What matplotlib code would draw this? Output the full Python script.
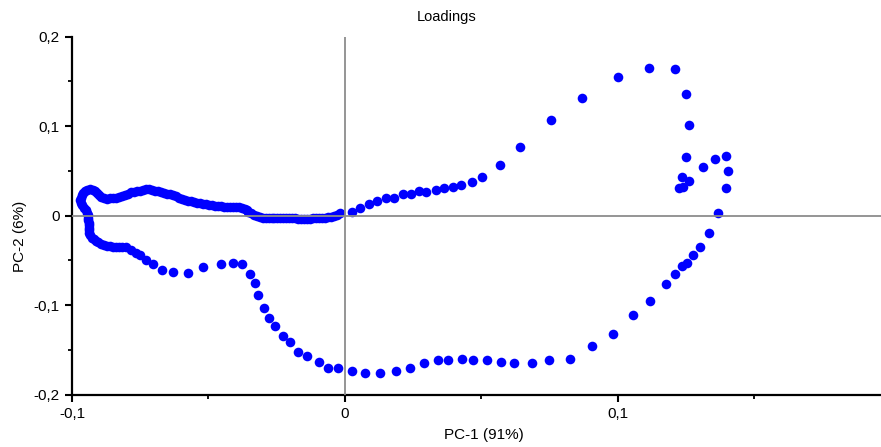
import matplotlib
matplotlib.use("Agg")
import matplotlib.pyplot as plt
from matplotlib.ticker import FixedLocator, FuncFormatter

plt.rcParams['font.family'] = ['Liberation Sans', 'DejaVu Sans']

# loadings PC-1 / PC-2, in path order
pc1 = [-0.0016, -0.0027, -0.0038, -0.0049, -0.0060, -0.0071, -0.0082, -0.0093, -0.0104, -0.0115,
       -0.0126, -0.0137, -0.0148, -0.0159, -0.0170, -0.0181, -0.0192, -0.0203, -0.0214, -0.0225,
       -0.0236, -0.0247, -0.0258, -0.0268, -0.0279, -0.0290, -0.0301, -0.0312, -0.0323, -0.0334,
       -0.0345, -0.0353, -0.0360, -0.0367, -0.0378, -0.0389, -0.0400, -0.0411, -0.0422, -0.0433,
       -0.0444, -0.0455, -0.0466, -0.0477, -0.0488, -0.0499, -0.0510, -0.0521, -0.0532, -0.0543,
       -0.0554, -0.0565, -0.0576, -0.0587, -0.0598, -0.0609, -0.0620, -0.0631, -0.0642, -0.0653,
       -0.0664, -0.0675, -0.0686, -0.0697, -0.0708, -0.0719, -0.0730, -0.0741, -0.0752, -0.0763,
       -0.0774, -0.0785, -0.0796, -0.0807, -0.0818, -0.0829, -0.0840, -0.0851, -0.0862, -0.0873,
       -0.0884, -0.0895, -0.0902, -0.0910, -0.0917, -0.0924, -0.0935, -0.0946, -0.0953, -0.0961,
       -0.0964, -0.0968, -0.0970, -0.0968, -0.0963, -0.0955, -0.0950, -0.0946, -0.0943, -0.0941,
       -0.0940, -0.0938, -0.0938, -0.0938, -0.0938, -0.0937, -0.0933, -0.0928, -0.0921, -0.0913,
       -0.0904, -0.0895, -0.0884, -0.0873, -0.0862, -0.0851, -0.0840, -0.0829, -0.0818, -0.0802,
       -0.0785, -0.0767, -0.0749, -0.0727, -0.0704, -0.0670, -0.0631, -0.0574, -0.0518, -0.0455,
       -0.0409, -0.0375, -0.0348, -0.0330, -0.0319, -0.0295, -0.0279, -0.0256, -0.0228, -0.0199,
       -0.0170, -0.0137, -0.0096, -0.0063, -0.0024, 0.0027, 0.0073, 0.0130, 0.0187, 0.0238,
       0.0289, 0.0341, 0.0380, 0.0431, 0.0470, 0.0523, 0.0573, 0.0619, 0.0688, 0.0750,
       0.0824, 0.0908, 0.0982, 0.1056, 0.1119, 0.1176, 0.1210, 0.1238, 0.1255, 0.1278,
       0.1302, 0.1336, 0.1370, 0.1398, 0.1404, 0.1398, 0.1358, 0.1313, 0.1262, 0.1240,
       0.1226, 0.1238, 0.1251, 0.1262, 0.1251, 0.1210, 0.1114, 0.1000, 0.0870, 0.0755,
       0.0641, 0.0568, 0.0504, 0.0465, 0.0426, 0.0397, 0.0363, 0.0333, 0.0299, 0.0273,
       0.0243, 0.0215, 0.0181, 0.0153, 0.0119, 0.0089, 0.0055, 0.0027]
pc2 = [0.0026, 0.0012, 0.0001, -0.0010, -0.0016, -0.0021, -0.0027, -0.0027, -0.0029, -0.0030,
       -0.0032, -0.0032, -0.0032, -0.0032, -0.0032, -0.0030, -0.0029, -0.0027, -0.0027, -0.0027,
       -0.0027, -0.0027, -0.0025, -0.0023, -0.0023, -0.0022, -0.0021, -0.0016, -0.0004, 0.0012,
       0.0029, 0.0046, 0.0063, 0.0079, 0.0091, 0.0093, 0.0093, 0.0094, 0.0096, 0.0098,
       0.0102, 0.0105, 0.0107, 0.0111, 0.0115, 0.0118, 0.0126, 0.0133, 0.0139, 0.0146,
       0.0152, 0.0160, 0.0166, 0.0174, 0.0185, 0.0202, 0.0219, 0.0230, 0.0238, 0.0247,
       0.0255, 0.0264, 0.0272, 0.0280, 0.0292, 0.0297, 0.0294, 0.0286, 0.0280, 0.0275,
       0.0268, 0.0260, 0.0247, 0.0230, 0.0219, 0.0210, 0.0202, 0.0197, 0.0193, 0.0191,
       0.0197, 0.0208, 0.0230, 0.0253, 0.0275, 0.0292, 0.0297, 0.0292, 0.0280, 0.0258,
       0.0230, 0.0202, 0.0174, 0.0146, 0.0118, 0.0091, 0.0063, 0.0035, 0.0007, -0.0021,
       -0.0049, -0.0077, -0.0105, -0.0133, -0.0161, -0.0189, -0.0217, -0.0245, -0.0265, -0.0284,
       -0.0298, -0.0312, -0.0326, -0.0337, -0.0343, -0.0347, -0.0351, -0.0351, -0.0351, -0.0351,
       -0.0384, -0.0421, -0.0440, -0.0496, -0.0541, -0.0611, -0.0630, -0.0645, -0.0578, -0.0541,
       -0.0526, -0.0541, -0.0649, -0.0750, -0.0891, -0.1029, -0.1147, -0.1237, -0.1340, -0.1409,
       -0.1527, -0.1565, -0.1636, -0.1706, -0.1706, -0.1736, -0.1755, -0.1755, -0.1736, -0.1703,
       -0.1650, -0.1617, -0.1617, -0.1599, -0.1617, -0.1617, -0.1632, -0.1650, -0.1650, -0.1617,
       -0.1600, -0.1460, -0.1323, -0.1114, -0.0958, -0.0768, -0.0649, -0.0563, -0.0526, -0.0440,
       -0.0354, -0.0198, 0.0029, 0.0305, 0.0495, 0.0666, 0.0632, 0.0546, 0.0390, 0.0323,
       0.0305, 0.0428, 0.0651, 0.1012, 0.1362, 0.1638, 0.1653, 0.1552, 0.1311, 0.1068,
       0.0770, 0.0565, 0.0428, 0.0375, 0.0342, 0.0323, 0.0305, 0.0286, 0.0267, 0.0272,
       0.0238, 0.0238, 0.0200, 0.0200, 0.0166, 0.0133, 0.0082, 0.0044]

xticks = [-0.1, 0, 0.1]
yticks = [-0.2, -0.1, 0, 0.1, 0.2]

fig = plt.figure(figsize=(8.81, 4.47), dpi=100)
ax = fig.add_axes([72/881, 1 - 394.7/447, 1 - 72/881, (394.7 - 36.7)/447])

ax.scatter(pc1, pc2, s=48, color='#0000ff', linewidths=0, zorder=2)
ax.axhline(0, color='#8c8c8c', lw=1.3, zorder=3)
ax.axvline(0, color='#8c8c8c', lw=1.3, zorder=3)

ax.set_xlim(-0.1, 0.1966)
ax.set_ylim(-0.2, 0.2)

ax.spines['top'].set_visible(False)
ax.spines['right'].set_visible(False)
for s in ['left', 'bottom']:
    ax.spines[s].set_linewidth(1.6)

ax.xaxis.set_major_locator(FixedLocator(xticks))
ax.xaxis.set_minor_locator(FixedLocator([-0.05, 0.05, 0.15]))
ax.yaxis.set_major_locator(FixedLocator(yticks))
ax.yaxis.set_minor_locator(FixedLocator([-0.15, -0.05, 0.05, 0.15]))

def fmt(v, pos):
    if abs(v) < 1e-9:
        return '0'
    return ('%g' % round(v, 3)).replace('.', ',')

ax.xaxis.set_major_formatter(FuncFormatter(fmt))
ax.yaxis.set_major_formatter(FuncFormatter(fmt))
ax.tick_params(which='major', length=5, width=1.5, labelsize=11, direction='out', pad=4)
ax.tick_params(which='minor', length=3, width=1.3, direction='out')

fig.text(447/881, 1 - 17/447, 'Loadings', ha='center', va='center', fontsize=10.5)
fig.text(484/881, 1 - 435/447, 'PC-1 (91%)', ha='center', va='center', fontsize=11)
fig.text(20/881, 1 - 236/447, 'PC-2 (6%)', ha='center', va='center', rotation=90, fontsize=11)

fig.savefig('out.png', dpi=100)
